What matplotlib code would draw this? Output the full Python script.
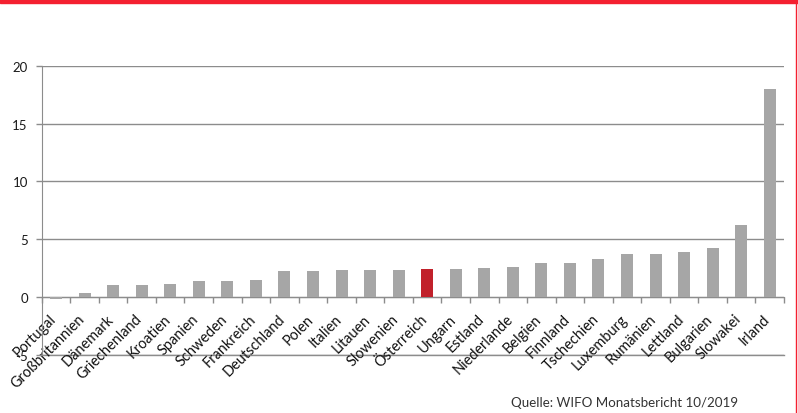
import numpy as np
import matplotlib.pyplot as plt
from matplotlib.transforms import ScaledTranslation

laender = ["Portugal", "Großbritannien", "Dänemark", "Griechenland", "Kroatien",
           "Spanien", "Schweden", "Frankreich", "Deutschland", "Polen", "Italien",
           "Litauen", "Slowenien", "Österreich", "Ungarn", "Estland", "Niederlande",
           "Belgien", "Finnland", "Tschechien", "Luxemburg", "Rumänien", "Lettland",
           "Bulgarien", "Slowakei", "Irland"]
werte = [-0.15, 0.3, 1.0, 1.0, 1.15, 1.35, 1.4, 1.5, 2.2, 2.2, 2.35, 2.3, 2.35,
         2.45, 2.4, 2.5, 2.6, 2.9, 2.9, 3.3, 3.7, 3.7, 3.9, 4.25, 6.2, 18.0]
y_ticks = [-5, 0, 5, 10, 15, 20]
quelle = "Quelle: WIFO Monatsbericht 10/2019"

grau = "#a6a6a6"
rot = "#c1212b"
linie = "#8c8c8c"

plt.rcParams["font.family"] = ["Lato", "DejaVu Sans"]

fig = plt.figure(figsize=(7.98, 4.14), dpi=100)
ax = fig.add_axes([0.0523, 0.1413, 0.9302, 0.6967])

x = np.arange(len(laender))
farben = [rot if l == "Österreich" else grau for l in laender]
ax.bar(x, werte, width=0.42, color=farben, zorder=3)

ax.set_xlim(-0.5, len(laender) - 0.5)
ax.set_ylim(-5, 20)
ax.set_yticks(y_ticks)
ax.set_yticklabels([str(t) for t in y_ticks], fontsize=9.5, color="#1a1a1a")
ax.yaxis.grid(True, color=linie, linewidth=1.0, zorder=0)
ax.axhline(-5, color=linie, linewidth=1.0, clip_on=False, zorder=1)
ax.tick_params(axis="y", length=4, color=linie, width=1.0, pad=6)

# Kategorienachse liegt auf der Nulllinie
for s in ["top", "right"]:
    ax.spines[s].set_visible(False)
ax.spines["left"].set_color(linie)
ax.spines["bottom"].set_position(("data", 0))
ax.spines["bottom"].set_color(linie)
ax.set_xticks(np.arange(len(laender) + 1) - 0.5)
ax.set_xticklabels([])
ax.set_xticks(x, minor=True)
labels = ax.set_xticklabels(laender, minor=True, rotation=45, ha="right",
                            va="top", fontsize=10, color="#111111")
ax.tick_params(axis="x", which="major", length=4, color=linie, width=1.0)
ax.tick_params(axis="x", which="minor", length=0, pad=10.5)

# Schriftgröße so wählen, dass die schrägen Beschriftungen etwa 62 + 80 px breit sind
fig.canvas.draw()
r = fig.canvas.get_renderer()
breite = sum(lab.get_window_extent(r).width for lab in labels
             if lab.get_text() in ("Niederlande", "Großbritannien"))
groesse = 10 * 142 / breite
versatz = ScaledTranslation(3 / 100, 0, fig.dpi_scale_trans)
for lab in labels:
    lab.set_fontsize(groesse)
    lab.set_transform(lab.get_transform() + versatz)

fig.text(0.925, 0.012, quelle, ha="right", va="bottom", fontsize=9.6,
         color="#333333", family="Lato")

# roter Rahmen oben und rechts
fig.add_artist(plt.Rectangle((0, 1 - 4 / 414), 1, 4 / 414, transform=fig.transFigure,
                             color="#f42030", zorder=10))
fig.add_artist(plt.Line2D([795.5 / 798, 795.5 / 798], [0, 1], transform=fig.transFigure,
                          color="#f42030", linewidth=1.0))

fig.savefig("out.png", dpi=100)
